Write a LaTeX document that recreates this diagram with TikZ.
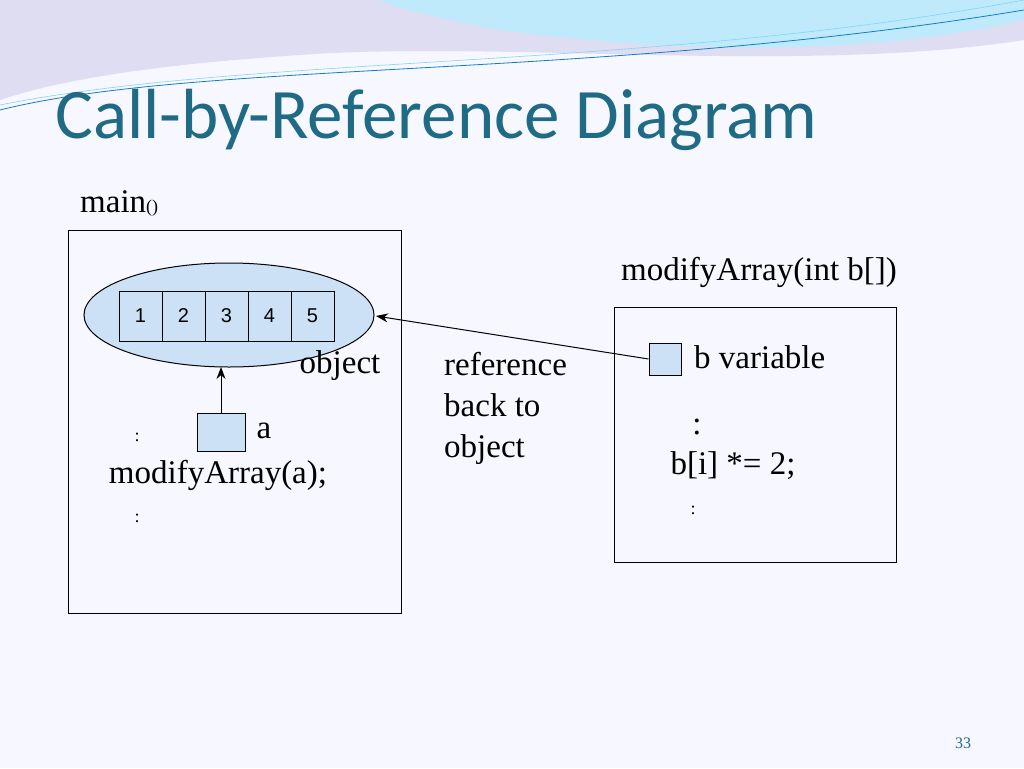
\documentclass[tikz,border=0pt]{standalone}
\usepackage{fontspec}
\setmainfont{Liberation Serif}
\newfontfamily\titlefont{Carlito}
\newfontfamily\cellfont{Liberation Sans}
\usetikzlibrary{arrows.meta,shapes.geometric}
\definecolor{teal1}{HTML}{1F6A85}
\definecolor{cellblue}{HTML}{CCE1F6}
\begin{document}
\begin{tikzpicture}[x=1pt,y=-1pt,
  txt/.style={font=\fontsize{33}{38}\selectfont, inner sep=0pt},
  cell/.style={draw, fill=cellblue, minimum width=43pt, minimum height=50pt, font=\cellfont\fontsize{20}{24}\selectfont, line width=1pt},
  sq/.style={draw, fill=cellblue, line width=1pt},
  arr/.style={-{Stealth[length=12pt,width=9pt]}, line width=1pt}]
\useasboundingbox (0,0) rectangle (1024,768);
\fill[white!97!blue] (0,0) rectangle (1024,768);
% top waves
\fill[cyan!15!blue!12] (0,0) -- (1024,0) -- (1024,40) .. controls (800,75) and (500,40) .. (300,55) .. controls (150,65) and (60,80) .. (0,100) -- cycle;
\fill[cyan!25] (380,0) -- (1024,0) -- (1024,20) .. controls (850,60) and (650,50) .. (500,30) .. controls (450,20) and (400,10) .. (380,0);
\draw[cyan!60!blue, line width=0.8pt] (0,110) .. controls (200,60) and (600,80) .. (1024,10);
\draw[cyan!50, line width=0.6pt] (0,105) .. controls (250,55) and (650,70) .. (1024,0);
\node[anchor=base west, text=teal1, font=\titlefont\fontsize{71}{80}\selectfont, inner sep=0pt] (title) at (55,138) {Call-by-Reference Diagram};
\node[txt, anchor=base west] (mainlbl) at (80,212) {main{\fontsize{18}{20}\selectfont()}};
\draw[line width=1pt] (68,230) rectangle (401,613);
\node[draw, fill=cellblue, ellipse, minimum width=290pt, minimum height=104pt, line width=1pt] (obj) at (229,315) {};
\foreach \i in {1,...,5} {
  \node[cell] (c\i) at ({119+43*(\i-0.5)},316) {\i};
}
\node[txt] (objlbl) at (340,366) {object};
\node[sq, minimum width=48pt, minimum height=38pt] (abox) at (221,432) {};
\node[txt] (alab) at (264,431) {a};
\node[font=\fontsize{18}{20}\selectfont] (d1) at (137,437) {:};
\node[txt] (call) at (218,475) {modifyArray(a);};
\node[font=\fontsize{18}{20}\selectfont] (d2) at (137,518) {:};
\draw[arr] (abox.north) -- (abox.north |- 0,367);
% right
\node[txt] (mlbl) at (759,272) {modifyArray(int b[])};
\draw[line width=1pt] (614,307) rectangle (896,562);
\node[sq, minimum width=32pt, minimum height=32pt] (bbox) at (665,359) {};
\node[txt, anchor=west] (blbl) at (694,357) {b variable};
\node[txt] (d3) at (697,427) {:};
\node[txt] (bi) at (733,466) {b[i] *= 2;};
\node[font=\fontsize{18}{20}\selectfont] (d4) at (693,510) {:};
\draw[arr] (bbox.west) -- (376,316);
\node[txt, anchor=north west, align=left, font=\fontsize{33}{41}\selectfont] (ref) at (444,352) {reference\\back to\\object};
\node[text=teal1, font=\fontsize{16}{18}\selectfont] (pg) at (963,743) {33};
\end{tikzpicture}
\end{document}
